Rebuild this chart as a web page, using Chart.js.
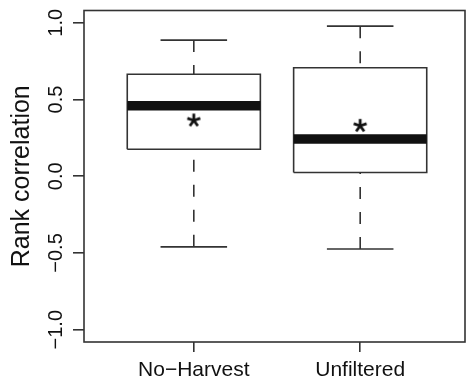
<!DOCTYPE html>
<html>
<head>
<meta charset="utf-8">
<script src="https://cdn.jsdelivr.net/npm/chart.js@4"></script>
<style>
  html, body { margin: 0; padding: 0; background: #fff; }
</style>
</head>
<body>
<canvas id="myChart" width="466" height="382"></canvas>
<script>
'use strict';
let categories = ['No\u2212Harvest', 'Unfiltered'];
let whiskerLow = [-0.46, -0.474];
let lowerQuart = [0.176, 0.024];
let medians = [0.46, 0.243];
let upperQuart = [0.665, 0.707];
let whiskerHigh = [0.887, 0.978];
let means = [0.364, 0.329];
let yTicks = [-1.0, -0.5, 0.0, 0.5, 1.0];

let lineColor = '#333';
let textColor = '#111';
let boxHalf = 0.4;
let capHalf = 0.2;

// asterisk used as the mean marker
function makeStar() {
  let c = document.createElement('canvas');
  c.width = 18;
  c.height = 18;
  let g = c.getContext('2d');
  g.strokeStyle = textColor;
  g.lineWidth = 2.8;
  let r = 6.8;
  for (let k = 0; k < 5; k++) {
    let a = -Math.PI / 2 + k * 2 * Math.PI / 5;
    g.beginPath();
    g.moveTo(9, 9);
    g.lineTo(9 + r * Math.cos(a), 9 + r * Math.sin(a));
    g.stroke();
  }
  return c;
}
let starImg = makeStar();

let datasets = [];
for (let i = 0; i < categories.length; i++) {
  let x = i + 1;
  datasets.push({ data: [{x: x, y: means[i]}], pointStyle: starImg, pointRadius: 9, showLine: false });
  datasets.push({ data: [{x: x - boxHalf, y: medians[i]}, {x: x + boxHalf, y: medians[i]}], borderColor: '#111', borderWidth: 9.5 });
  datasets.push({
    data: [
      {x: x - boxHalf, y: lowerQuart[i]}, {x: x + boxHalf, y: lowerQuart[i]},
      {x: x + boxHalf, y: upperQuart[i]}, {x: x - boxHalf, y: upperQuart[i]},
      {x: x - boxHalf, y: lowerQuart[i]}
    ],
    borderColor: lineColor, borderWidth: 1.6, borderJoinStyle: 'miter'
  });
  // whiskers drawn from the cap towards the box
  datasets.push({ data: [{x: x, y: whiskerLow[i]}, {x: x, y: lowerQuart[i]}], borderColor: lineColor, borderWidth: 1.6, borderDash: [12, 13] });
  datasets.push({ data: [{x: x, y: whiskerHigh[i]}, {x: x, y: upperQuart[i]}], borderColor: lineColor, borderWidth: 1.6, borderDash: [12, 13] });
  datasets.push({ data: [{x: x - capHalf, y: whiskerLow[i]}, {x: x + capHalf, y: whiskerLow[i]}], borderColor: lineColor, borderWidth: 1.6 });
  datasets.push({ data: [{x: x - capHalf, y: whiskerHigh[i]}, {x: x + capHalf, y: whiskerHigh[i]}], borderColor: lineColor, borderWidth: 1.6 });
}

let framePlugin = {
  id: 'frame',
  afterDraw(chart) {
    let a = chart.chartArea;
    let c = chart.ctx;
    c.save();
    c.strokeStyle = lineColor;
    c.lineWidth = 1.6;
    c.strokeRect(a.left, a.top, a.right - a.left, a.bottom - a.top);
    c.restore();
  }
};

function noPad(scale) {
  scale.paddingTop = 0;
  scale.paddingBottom = 0;
  scale.paddingLeft = 0;
  scale.paddingRight = 0;
}

let ctx = document.getElementById('myChart').getContext('2d');
const myChart = new Chart(ctx, {
  type: 'scatter',
  data: { datasets: datasets },
  options: {
    responsive: false,
    animation: false,
    devicePixelRatio: 1,
    showLine: true,
    elements: {
      point: { radius: 0, hoverRadius: 0 },
      line: { borderCapStyle: 'butt', tension: 0 }
    },
    layout: { autoPadding: false, padding: { top: 10.5, right: 1, left: 0, bottom: 0 } },
    plugins: { legend: { display: false }, tooltip: { enabled: false } },
    scales: {
      x: {
        type: 'linear', position: 'bottom', min: 0.34, max: 2.63,
        afterBuildTicks: function(scale) { scale.ticks = categories.map(function(c, i) { return {value: i + 1}; }); },
        afterFit: function(scale) { scale.height = 40; noPad(scale); },
        ticks: {
          autoSkip: false, maxRotation: 0, padding: 6, color: textColor,
          font: { family: '"Liberation Sans", Arial, sans-serif', size: 21 },
          callback: function(v) { return categories[v - 1]; }
        },
        grid: { drawOnChartArea: false, tickLength: 10, color: lineColor, lineWidth: 1.6 },
        border: { display: false }
      },
      y: {
        type: 'linear', min: -1.08, max: 1.08,
        afterBuildTicks: function(scale) { scale.ticks = yTicks.map(function(v) { return {value: v}; }); },
        afterFit: function(scale) { scale.width = 84; noPad(scale); },
        ticks: {
          minRotation: 90, maxRotation: 90, crossAlign: 'center', padding: -3, color: textColor,
          font: { family: '"Liberation Sans", Arial, sans-serif', size: 20 },
          callback: function(v) { return (v < 0 ? '\u2212' : '') + Math.abs(v).toFixed(1); }
        },
        grid: { drawOnChartArea: false, tickLength: 11, color: lineColor, lineWidth: 1.6 },
        border: { display: false },
        title: {
          display: true, text: 'Rank correlation', color: textColor,
          font: { family: '"Liberation Sans", Arial, sans-serif', size: 25 },
          padding: { top: 7.5, bottom: 0 }
        }
      }
    }
  },
  plugins: [framePlugin]
});
</script>
</body>
</html>
